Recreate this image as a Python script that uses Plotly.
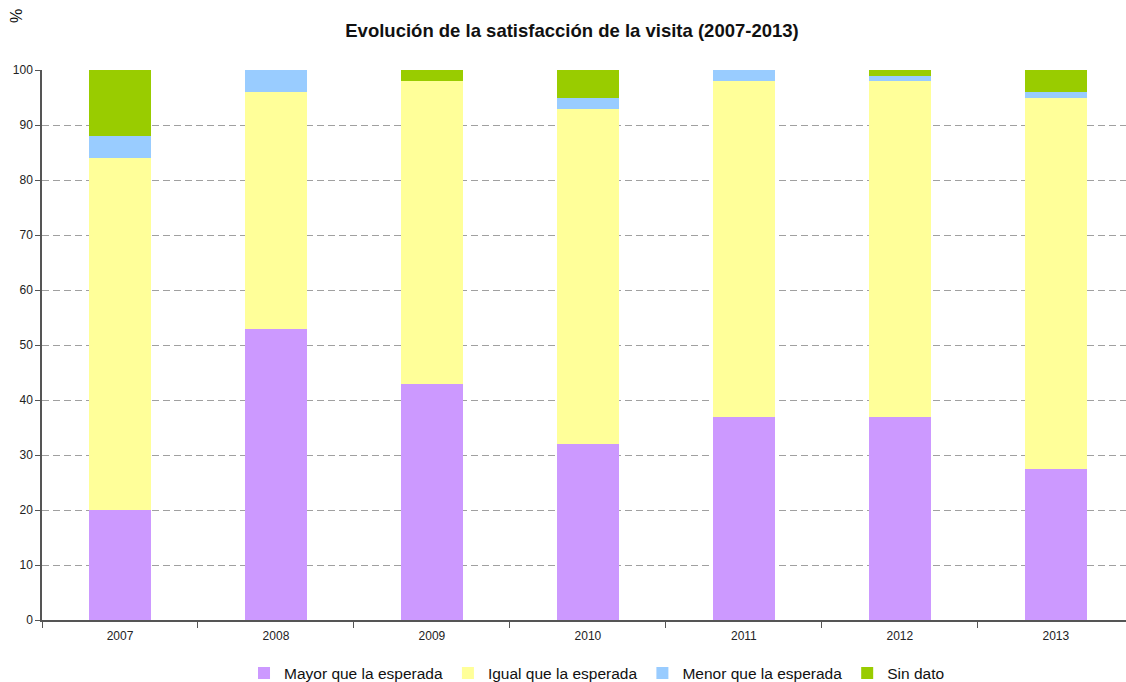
import plotly.graph_objects as go

years = ["2007", "2008", "2009", "2010", "2011", "2012", "2013"]
mayor = [20, 53, 43, 32, 37, 37, 27.5]
igual = [64, 43, 55, 61, 61, 61, 67.5]
menor = [4, 4, 0, 2, 2, 1, 1]
sin_dato = [12, 0, 2, 5, 0, 1, 4]

series = [
    ("Mayor que la esperada", mayor, "#CC99FF"),
    ("Igual que la esperada", igual, "#FFFF99"),
    ("Menor que la esperada", menor, "#99CCFF"),
    ("Sin dato", sin_dato, "#99CC00"),
]

fig = go.Figure()
for name, vals, col in series:
    fig.add_trace(go.Bar(x=years, y=vals, name=name, marker=dict(color=col, line=dict(width=0)), width=0.4))

fig.update_layout(
    barmode="stack",
    width=1126, height=682,
    margin=dict(l=42, r=0, t=70, b=62, autoexpand=False),
    plot_bgcolor="white", paper_bgcolor="white",
    font=dict(family="Liberation Sans, Arial, sans-serif", color="#222", size=12),
    title=dict(text="<b>Evolución de la satisfacción de la visita (2007-2013)</b>",
               x=0.508, xanchor="center", y=1 - 31 / 682, yanchor="middle",
               font=dict(size=18.5, color="#111")),
    legend=dict(orientation="h", x=0.512, xanchor="center", y=-0.066, yanchor="top",
                font=dict(size=15.5, color="#111"), traceorder="normal", itemwidth=30),
)
fig.update_xaxes(range=[-0.5, 6.45], showline=True, linecolor="#555", linewidth=1.5,
                 ticks="outside", tickson="boundaries", ticklen=6, tickcolor="#555",
                 ticklabelstandoff=4,
                 tickfont=dict(size=12, color="#222"), showgrid=False, automargin=False)
fig.update_yaxes(range=[0, 100], dtick=10, showline=True, linecolor="#555", linewidth=1.5,
                 ticks="outside", ticklen=5, tickcolor="#555",
                 showgrid=True, gridcolor="#A0A0A0", griddash="7px,4px", gridwidth=1,
                 tickfont=dict(size=12, color="#222"), zeroline=False, automargin=False)
fig.add_annotation(text="%", xref="paper", yref="paper", x=(16 - 42) / 1084, y=1 + (70 - 16) / 550,
                   xanchor="center", yanchor="middle",
                   showarrow=False, textangle=-90, font=dict(size=16, color="#111"))
fig.write_html("out.html", config={"displayModeBar": False},
               post_script="document.body.style.margin='0';document.body.style.overflow='hidden';")
